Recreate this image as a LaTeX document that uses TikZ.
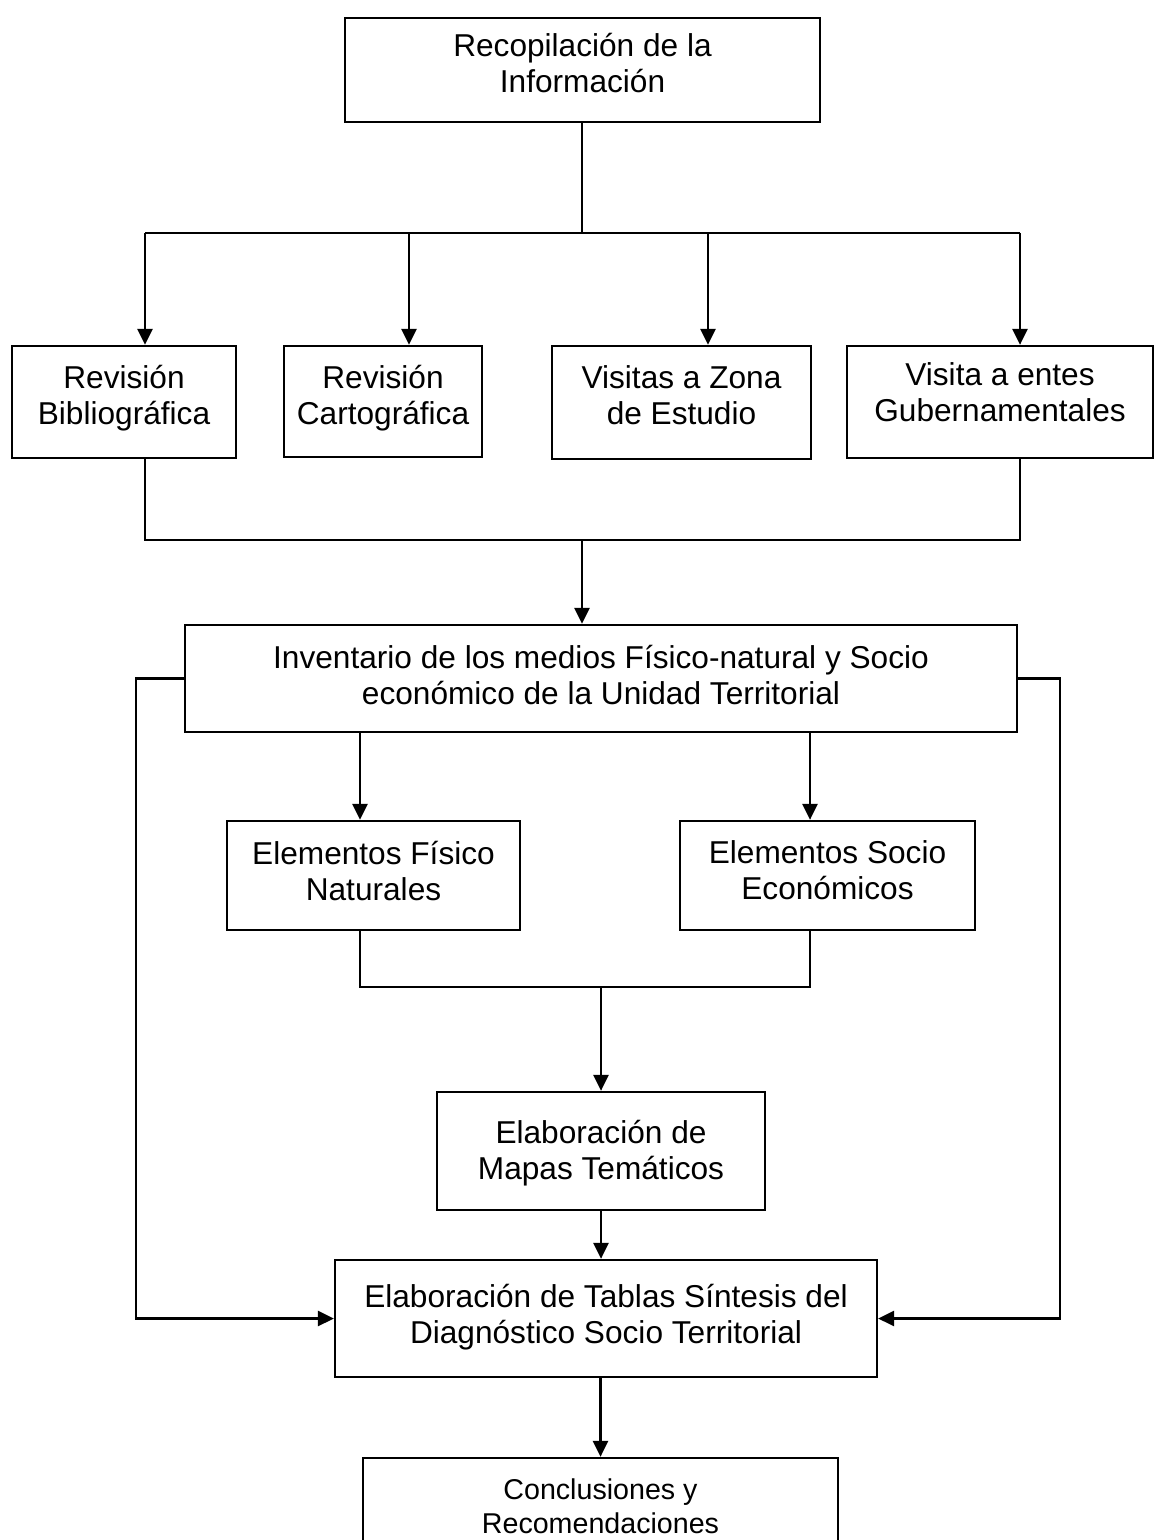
\documentclass[tikz,border=0pt]{standalone}
\usepackage{fontspec}
\setmainfont{Liberation Sans}
\usetikzlibrary{arrows.meta}

\begin{document}
\begin{tikzpicture}[x=0.02cm,y=-0.02cm,%pixel units, y downwards
  caja/.style={draw, line width=1.3pt, align=center, inner sep=0pt, text depth=0.28cm,
    font=\fontsize{18}{20.5}\selectfont},
  flecha/.style={-{Triangle[width=0.3cm,length=0.32cm]}, line width=1.5pt},
  linea/.style={line width=1.1pt}]
\useasboundingbox (0,0) rectangle (1155,1540);

% boxes
\node [caja, minimum width=9.5cm, minimum height=2.08cm] (reco) at (582.5,70) {Recopilación de la\\Información};
\node [caja, minimum width=4.48cm, minimum height=2.24cm] (rb) at (124,402) {Revisión\\Bibliográfica};
\node [caja, minimum width=3.96cm, minimum height=2.22cm] (rc) at (383,401.5) {Revisión\\Cartográfica};
\node [caja, minimum width=5.18cm, minimum height=2.26cm] (vz) at (681.5,402.5) {Visitas a Zona\\de Estudio};
\node [caja, minimum width=6.12cm, minimum height=2.24cm, text depth=0.4cm] (ve) at (1000,402) {Visita a entes\\Gubernamentales};
\node [caja, minimum width=16.64cm, minimum height=2.14cm, text depth=0.16cm] (inv) at (601,678.5) {Inventario de los medios Físico-natural y Socio\\económico de la Unidad Territorial};
\node [caja, minimum width=5.86cm, minimum height=2.18cm, text depth=0.2cm] (efn) at (373.5,875.5) {Elementos Físico\\Naturales};
\node [caja, minimum width=5.9cm, minimum height=2.18cm, text depth=0.2cm] (ese) at (827.5,875.5) {Elementos Socio\\Económicos};
\node [caja, minimum width=6.56cm, minimum height=2.36cm, text depth=0.04cm] (map) at (601,1151) {Elaboración de\\Mapas Temáticos};
\node [caja, minimum width=10.84cm, minimum height=2.34cm, text depth=0.2cm] (tab) at (606,1318.5) {Elaboración de Tablas Síntesis del\\Diagnóstico Socio Territorial};
\node [caja, minimum width=9.5cm, minimum height=2.04cm, text depth=0.12cm, font=\fontsize{16.3}{19.8}\selectfont] (con) at (600.5,1509) {Conclusiones y\\Recomendaciones};

% first level
\coordinate (t0) at (582,233);
\coordinate (t1) at (145,233);
\coordinate (t2) at (409,233);
\coordinate (t3) at (708,233);
\coordinate (t4) at (1020,233);
\draw [linea] (reco.south -| t0) -- (t0);
\draw [linea] (t1) -- (t4);
\foreach \t/\b in {t1/rb,t2/rc,t3/vz,t4/ve}
  \draw [flecha] (\t) -- (\t |- \b.north);

% join under the row
\coordinate (u1) at (145,540);
\coordinate (u2) at (1020,540);
\coordinate (u0) at (582,540);
\draw [linea] (u1 |- rb.south) -- (u1) -- (u2) -- (u2 |- ve.south);
\draw [flecha] (u0) -- (u0 |- inv.north);

% side returns
\coordinate (izq) at (136,0);
\coordinate (der) at (1060,0);
\draw [flecha] (inv.west) -- (inv.west -| izq) -- (izq |- tab.west) -- (tab.west);
\draw [flecha] (inv.east) -- (inv.east -| der) -- (der |- tab.east) -- (tab.east);

% elements
\coordinate (a1) at (360,0);
\coordinate (a2) at (810,0);
\draw [flecha] (inv.south -| a1) -- (efn.north -| a1);
\draw [flecha] (inv.south -| a2) -- (ese.north -| a2);
\coordinate (m1) at (360,987);
\coordinate (m2) at (810,987);
\draw [linea] (efn.south -| m1) -- (m1) -- (m2) -- (ese.south -| m2);
\draw [flecha] (m1 -| map.north) -- (map.north);

% down to the end
\draw [flecha] (map.south) -- (map.south |- tab.north);
\draw [flecha] (con.north |- tab.south) -- (con.north);
\end{tikzpicture}
\end{document}
